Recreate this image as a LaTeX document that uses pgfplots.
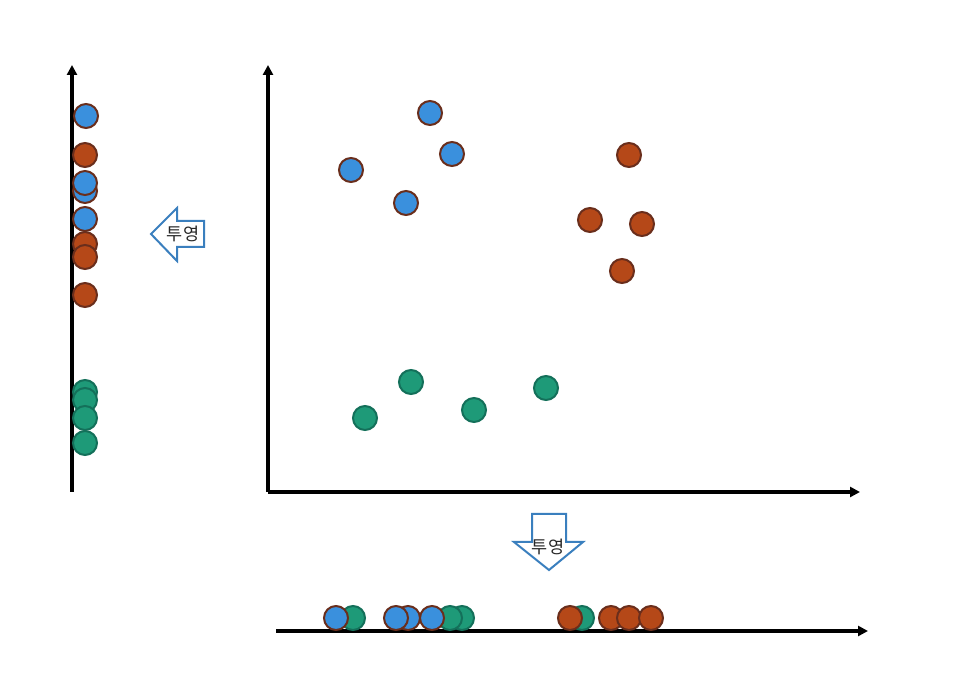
\documentclass[border=0pt]{standalone}
\usepackage{pgfplots}
\pgfplotsset{compat=1.18}
\usepackage{fontspec}
\newfontfamily\kr{Noto Sans CJK KR}
\usetikzlibrary{arrows.meta}
\definecolor{cblue}{HTML}{3A90DD}
\definecolor{corange}{HTML}{B54818}
\definecolor{cgreen}{HTML}{1E9A78}
\definecolor{edgebr}{HTML}{6A2E1C}
\definecolor{edgegr}{HTML}{14705A}
\definecolor{arrblue}{HTML}{3A7FBE}
\pgfplotsset{
  proj/.style={x=1pt,y=1pt,anchor=south west,clip=false,
    xtick=\empty,ytick=\empty},
  thickax/.style={
    axis line style={line width=3.1pt},
    every outer x axis line/.append style={line width=3.1pt,-{Triangle[length=10pt,width=10pt]}},
    every outer y axis line/.append style={line width=3.1pt,-{Triangle[length=10pt,width=10pt]}}},
  bl/.style={only marks,mark=*,mark size=12pt,mark options={fill=cblue,draw=edgebr,line width=2pt}},
  orr/.style={only marks,mark=*,mark size=12pt,mark options={fill=corange,draw=edgebr,line width=2pt}},
  gr/.style={only marks,mark=*,mark size=12pt,mark options={fill=cgreen,draw=edgegr,line width=2pt}},
}
\begin{document}
\begin{tikzpicture}
\path[use as bounding box] (0pt,0pt) rectangle (966pt,693pt);
% main scatter
\begin{axis}[proj,at={(268pt,201pt)},xmin=268,xmax=860,ymin=201,ymax=628,axis lines=left,thickax]
\addplot[gr] coordinates {(411,311) (365,275) (474,283) (546,305)};
\addplot[bl] coordinates {(430,580) (351,523) (452,539) (406,490)};
\addplot[orr] coordinates {(629,538) (590,473) (642,469) (622,422)};
\end{axis}
% left projection
\begin{axis}[proj,at={(72pt,201pt)},xmin=72,xmax=100,ymin=201,ymax=628,axis x line=none,axis y line=left,thickax]
\addplot[gr] coordinates {(85,301) (85,293) (85,275) (85,250)};
\addplot[bl] coordinates {(86,577) (85,502) (85,510) (85,474)};
\addplot[orr] coordinates {(85,538) (85,449) (85,436) (85,398)};
\end{axis}
% bottom projection
\begin{axis}[proj,at={(276pt,62pt)},xmin=276,xmax=868,ymin=62,ymax=90,axis x line=bottom,axis y line=none,thickax]
\addplot[gr] coordinates {(353,75) (462,75) (450,75) (582,75)};
\addplot[orr] coordinates {(570,75) (611,75) (629,75) (651,75)};
\addplot[bl] coordinates {(336,75) (408,75) (396,75) (432,75)};
\end{axis}
% block arrows
\draw[arrblue,line width=2pt,fill=white,line join=miter]
  (151pt,459pt) -- (177pt,485pt) -- (177pt,472pt) -- (204pt,472pt) -- (204pt,446pt) -- (177pt,446pt) -- (177pt,432pt) -- cycle;
\node[font=\kr\fontsize{17.5pt}{19pt}\selectfont,text=black!85] at (183pt,459pt) {투영};
\draw[arrblue,line width=2pt,fill=white,line join=miter]
  (532pt,179pt) -- (566pt,179pt) -- (566pt,151pt) -- (583pt,151pt) -- (549pt,123pt) -- (514pt,151pt) -- (532pt,151pt) -- cycle;
\node[font=\kr\fontsize{17.5pt}{19pt}\selectfont,text=black!85] at (548pt,146pt) {투영};
\end{tikzpicture}
\end{document}
